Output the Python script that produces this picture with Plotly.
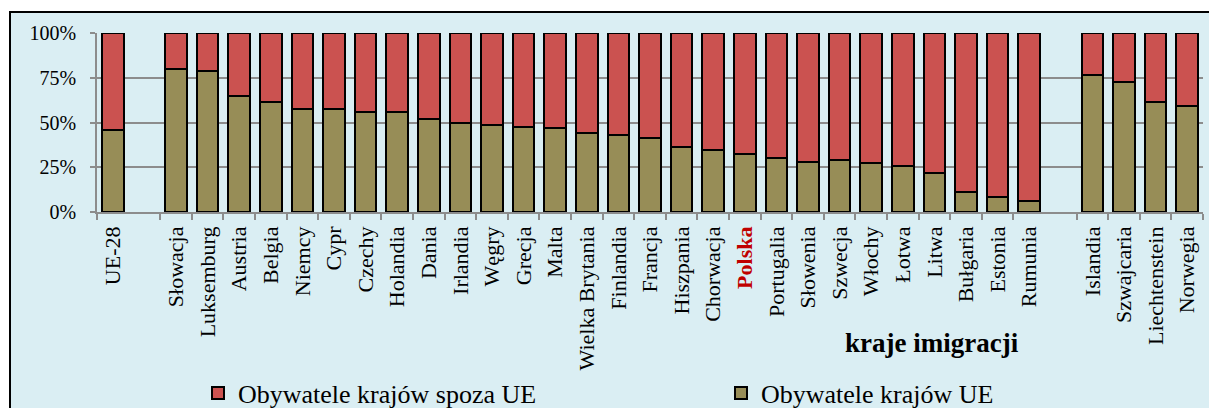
import plotly.graph_objects as go

countries = ["UE-28", "sp1", "Słowacja", "Luksemburg", "Austria", "Belgia", "Niemcy", "Cypr",
             "Czechy", "Holandia", "Dania", "Irlandia", "Węgry", "Grecja", "Malta",
             "Wielka Brytania", "Finlandia", "Francja", "Hiszpania", "Chorwacja", "Polska",
             "Portugalia", "Słowenia", "Szwecja", "Włochy", "Łotwa", "Litwa", "Bułgaria",
             "Estonia", "Rumunia", "sp2", "Islandia", "Szwajcaria", "Liechtenstein", "Norwegia"]

eu_share = [45.8, None, 79.9, 78.7, 64.9, 61.6, 57.8, 57.8, 56.1, 55.6, 51.9, 49.6, 48.7, 47.6,
            47.2, 44.4, 43.1, 41.4, 36.4, 34.5, 32.6, 30.4, 27.8, 28.9, 27.2, 25.7, 21.6, 11.4,
            8.2, 6.3, None, 76.8, 72.4, 61.2, 59.5]

non_eu_share = [54.2, None, 20.1, 21.3, 35.1, 38.4, 42.2, 42.2, 43.9, 44.4, 48.1, 50.4, 51.3, 52.4,
                52.8, 55.6, 56.9, 58.6, 63.6, 65.5, 67.4, 69.6, 72.2, 71.1, 72.8, 74.3, 78.4, 88.6,
                91.8, 93.7, None, 23.2, 27.6, 38.8, 40.5]

y_ticks = [0, 25, 50, 75, 100]
y_tick_labels = ["0%", "25%", "50%", "75%", "100%"]

spacers = {"sp1", "sp2"}
label_vals = [c for c in countries if c not in spacers]
label_text = [("<b><span style='color:#c00000'>Polska</span></b>" if c == "Polska" else c)
              for c in label_vals]

FONT = "Liberation Serif, Times New Roman, serif"
BG = "#daeef3"
GRID = "#8c8c8c"

# plot-area geometry in pixels (for converting paper coords)
L, R, T, B = 97, 6, 33, 196
PW, PH = 1209 - L - R, 408 - T - B


def px_x(px):
    return (px - L) / PW


def px_y(py):
    return (408 - B - py) / PH


fig = go.Figure()
fig.add_trace(go.Bar(
    x=countries, y=eu_share, name="Obywatele krajów UE",
    marker=dict(color="#978d57", line=dict(color="black", width=2)),
    legend="legend2",
))
fig.add_trace(go.Bar(
    x=countries, y=non_eu_share, name="Obywatele krajów spoza UE",
    marker=dict(color="#cb5250", line=dict(color="black", width=2)),
    legend="legend",
))

legend_common = dict(orientation="h", yanchor="middle", y=px_y(393), xanchor="left",
                     font=dict(family=FONT, size=26, color="black"),
                     bgcolor="rgba(0,0,0,0)", borderwidth=0, itemwidth=30)

fig.update_layout(
    width=1209, height=408,
    barmode="stack", bargap=0.32,
    paper_bgcolor="white", plot_bgcolor=BG,
    margin=dict(l=L, r=R, t=T, b=B, autoexpand=False),
    font=dict(family=FONT, size=20, color="black"),
    showlegend=True,
    legend=dict(x=px_x(198), **legend_common),
    legend2=dict(x=px_x(721), **legend_common),
    shapes=[dict(type="rect", xref="paper", yref="paper",
                 x0=px_x(10), x1=px_x(1215), y0=px_y(415), y1=px_y(12),
                 fillcolor=BG, line=dict(color="black", width=2), layer="below")],
    annotations=[dict(text="<b>kraje imigracji</b>", xref="paper", yref="paper",
                      x=px_x(932), y=px_y(343), xanchor="center",
                      yanchor="middle", showarrow=False,
                      font=dict(family=FONT, size=27, color="black"))],
)

fig.update_xaxes(
    type="category", categoryorder="array", categoryarray=countries,
    tickmode="array", tickvals=label_vals, ticktext=label_text, tickangle=-90,
    ticks="outside", tickson="boundaries", ticklen=6, tickcolor=GRID, tickwidth=1.5,
    ticklabelstandoff=4,
    showline=True, linecolor=GRID, linewidth=1.5,
    showgrid=False, tickfont=dict(family=FONT, size=22, color="black"),
)
fig.update_yaxes(
    range=[0, 100], tickmode="array", tickvals=y_ticks, ticktext=y_tick_labels,
    ticks="outside", ticklen=5, tickcolor=GRID, tickwidth=1.5, ticklabelstandoff=10,
    showgrid=True, gridcolor=GRID, gridwidth=1.5,
    showline=True, linecolor=GRID, linewidth=1.5, zeroline=False,
    tickfont=dict(family=FONT, size=20, color="black"),
)

fig.write_html("out.html", config={"displayModeBar": False},
               post_script="document.body.style.margin='0px';")
